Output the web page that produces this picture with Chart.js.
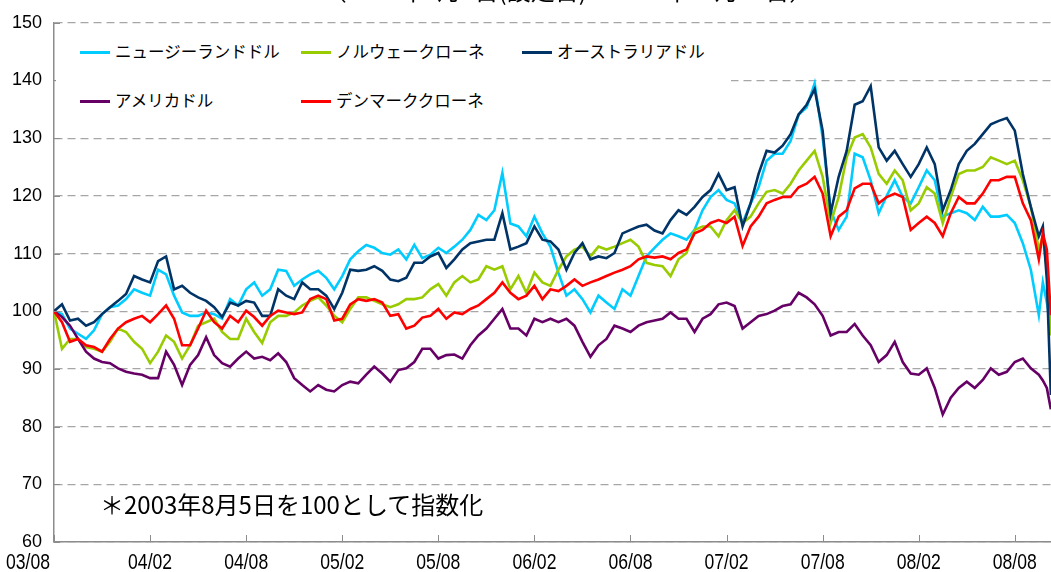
<!DOCTYPE html>
<html>
<head>
<meta charset="utf-8">
<script src="https://cdn.jsdelivr.net/npm/chart.js@4.4.0/dist/chart.umd.min.js"></script>
<style>
body { margin: 0; background: #fff; }
#wrap { position: relative; width: 1051px; height: 572px; overflow: hidden; }
#chart { position: absolute; left: 0; top: 0; }
.jp { position: absolute; white-space: nowrap; color: #000; font-family: "Noto Sans CJK JP", sans-serif; }
#title { left: 0; width: 1136px; text-align: center; top: -22px; font-size: 24px; line-height: 24px; }
#legend { left: 56px; top: 24px; width: 675px; height: 98px; background: #fff; }
.item { position: absolute; font-size: 16.5px; line-height: 20px; }
.item i { display: inline-block; width: 30px; height: 3px; vertical-align: middle; margin-right: 5px; position: relative; top: -1px; }
#note { left: 100px; top: 491px; font-size: 24px; line-height: 26px; }
</style>
</head>
<body>
<div id="wrap">
  <canvas id="chart" width="1051" height="572"></canvas>
  <div id="title" class="jp">（2003年8月5日(設定日)～2008年10月28日）</div>
  <div id="legend" class="jp"></div>
  <div id="note" class="jp">＊2003年8月5日を100として指数化</div>
</div>
<script>
// months after 2003/08/05 (half-month steps, plus a few points at the end)
var months = [];
for (var m = 0; m <= 61; m += 0.5) months.push(m);
months.push(61.5, 61.75, 62, 62.25);

var tickLabels = ['03/08', '04/02', '04/08', '05/02', '05/08', '06/02', '06/08', '07/02', '07/08', '08/02', '08/08'];

var nzd = [100, 99.5, 97, 96.1, 95.2, 96.7, 99.5, 100.7, 101, 102.1, 103.8, 103.2, 102.7, 107.2, 106.4, 102.7, 99.8, 99.2, 99.2, 99.8, 99.5, 98.7, 102.1, 101, 103.8,
  105,
  102.7, 103.8, 107.2, 107, 104.4, 105.5, 106.4, 107, 105.8, 103.8, 106.1, 109, 110.4, 111.5, 111, 110.1, 109.8, 110.7, 109, 111.5, 109.2, 109.8, 111, 110.1,
  111.2,
  112.4, 114.1, 116.7, 115.8, 117.5, 124, 115.2, 114.7, 113, 116.4, 113.5, 111.2, 106.7, 102.7, 103.8, 102.1, 99.8, 102.7, 101.5, 100.4, 103.8, 102.7, 106.1, 109.5,
  111,
  112.4, 113.5, 113, 112.4, 114.1, 117.5, 119.8, 121, 119.3, 118.7, 115.3, 118.7, 121.5, 126.1, 127.3, 127.3, 129.5, 134.1, 135.3, 139.5, 130.1, 117.5, 114.1, 116.4,
  127.3,
  126.7, 122.7, 117, 120, 122.7, 119.8, 118.7, 121.5, 124.4, 122.7, 116.4, 117, 117.5, 117, 115.8, 118.1, 116.4, 116.4, 116.7, 115.3, 111.8, 107.2,
  99.3, 105, 101.5, 97];

var nok = [100, 93.5, 95.2, 95.2, 93.8, 93.5, 93, 94.7, 97, 96.4, 94.7, 93.5, 91, 93, 95.8, 94.7, 91.8, 94.1, 97.5, 98.1, 98.7, 96.4, 95.2, 95.2, 98.7,
  96.4,
  94.5, 98.1, 99.2, 99.2, 99.8, 101, 101.8, 102.4, 101, 99.2, 98.1, 100.4, 102.4, 102.4, 101.8, 101.2, 100.7, 101.2, 102.1, 102.1, 102.4, 103.8, 104.7, 102.7,
  105,
  106.1, 105, 105.5, 107.8, 107.2, 107.8, 103.8, 106.1, 103.2, 106.7, 105, 104.4, 107.2, 109.5, 110.7, 111.2, 109.5, 111.2, 110.7, 111.2, 111.8, 112.4, 111.2, 108.4,
  108,
  107.8, 106.1, 109, 110.1, 114.1, 114.7, 114.7, 113, 115.8, 117.5, 115.3, 116.4, 118.7, 120.7, 121, 120.4, 122.1, 124.4, 126.1, 127.8, 123.3, 115.3, 119.8, 126.7,
  130.1,
  130.7, 128.4, 123.8, 122.1, 124.4, 122.7, 117.5, 118.7, 121.5, 120.4, 115.3, 119.8, 123.8, 124.4, 124.4, 125, 126.7, 126.1, 125.5, 126.1, 122.7, 118.1,
  110.7, 113, 107.2, 95.8];

var aud = [100, 101.2, 98.4, 98.7, 97.5, 98.1, 99.5, 100.7, 101.8, 103, 106.1, 105.5, 105, 108.7, 109.5, 103.8, 104.4, 103.2, 102.4, 101.8, 100.7, 99, 101.5, 101, 101.8,
  101.5,
  99.2, 99.2, 103.8, 102.7, 102.1, 105, 103.8, 103.8, 102.7, 100.4, 103.2, 107.2, 107, 107.2, 107.8, 107, 105.5, 105.2, 105.8, 108.4, 108.4, 109.5, 110.1, 107.5,
  109,
  110.7, 111.8, 112.1, 112.4, 112.4, 117, 110.7, 111.2, 111.8, 114.7, 112.4, 112.1, 110.7, 107.2, 110.1, 111.8, 109, 109.5, 109.2, 110.1, 113.5, 114.1, 114.7, 115,
  114,
  113.5, 115.8, 117.5, 116.7, 118.1, 119.8, 121, 123.8, 121, 121.5, 114.7, 118.7, 123.8, 127.8, 127.5, 128.7, 130.7, 134.1, 135.8, 138.5, 131.3, 117, 123.3, 127.8,
  135.8,
  136.4, 139, 128.4, 126.1, 127.8, 125.5, 123.3, 125.5, 128.4, 125.5, 117.5, 121, 125.5, 127.8, 129, 130.7, 132.4, 133, 133.5, 131.3, 123.8, 118.1,
  113, 114.7, 105.5, 85.5];

var usd = [100, 99, 97.5, 95.2, 93, 91.8, 91.2, 91, 90.1, 89.5, 89.2, 89, 88.4, 88.4, 93, 90.7, 87.2, 90.7, 92.4, 95.5, 92.4, 91, 90.4, 91.8, 93,
  91.8,
  92.1, 91.5, 92.7, 91.2, 88.4, 87.2, 86.1, 87.2, 86.4, 86.1, 87.2, 87.8, 87.5, 89, 90.4, 89.2, 87.8, 89.8, 90.1, 91.2, 93.5, 93.5, 91.8, 92.4,
  92.5,
  91.8, 94.1, 95.8, 97, 98.7, 100.4, 97, 97, 95.8, 98.7, 98.1, 98.7, 98.1, 98.7, 97.5, 94.7, 92.1, 94.1, 95.2, 97.5, 97, 96.4, 97.5, 98.1,
  98.4,
  98.7, 99.8, 98.7, 98.7, 96.4, 98.7, 99.5, 101.2, 101.5, 100.9, 97, 98.1, 99.2, 99.5, 100.1, 100.9, 101.2, 103.2, 102.4, 101.2, 99.2, 95.8, 96.4, 96.4,
  97.8,
  95.8, 94.1, 91.2, 92.4, 94.7, 91.2, 89.2, 89, 90.1, 86.7, 82.1, 85, 86.7, 87.8, 86.7, 88.1, 90.1, 89, 89.5, 91.2, 91.8, 90.1,
  89, 88, 86.7, 83];

var dkk = [100, 98.1, 94.7, 95.2, 94.1, 93.8, 93, 95.2, 97, 98.1, 98.7, 99.2, 98.1, 99.5, 101, 98.7, 94.1, 94.1, 97, 100.1, 98.1, 97, 99.2, 98.1, 100.1,
  99,
  97.5, 99.2, 100.1, 99.8, 99.5, 99.8, 102.1, 102.7, 102.1, 98.4, 98.7, 101.2, 102.1, 101.8, 102.1, 101.5, 99.2, 99.5, 97, 97.5, 98.9, 99.2, 100.4, 98.7,
  99.8,
  99.5, 100.4, 101, 102.1, 103.2, 105, 103.2, 102.1, 102.7, 104.4, 102.1, 103.8, 103.5, 104.4, 105.5, 104.4, 105, 105.5, 106.1, 106.7, 107.2, 107.8, 109, 109.5,
  109.3,
  109.5, 109, 110.1, 110.7, 113.5, 114.1, 115.3, 115.8, 115.3, 116.4, 111.3, 114.7, 116.4, 118.7, 119.3, 119.8, 119.8, 121.5, 122.1, 123.3, 120.4, 113, 116.4, 117.5,
  121.3,
  122.1, 122.1, 118.7, 119.8, 120.4, 119.8, 114.1, 115.3, 116.4, 115.3, 113, 117, 119.8, 118.7, 118.7, 120.4, 122.7, 122.7, 123.3, 123.3, 118.7, 115.8,
  109, 113.5, 110.7, 99.3];

var seriesList = [
  { label: 'ニュージーランドドル', values: nzd, color: '#00CCFF', order: 5 },
  { label: 'ノルウェークローネ', values: nok, color: '#99CC00', order: 4 },
  { label: 'オーストラリアドル', values: aud, color: '#003366', order: 3 },
  { label: 'アメリカドル', values: usd, color: '#660066', order: 2 },
  { label: 'デンマーククローネ', values: dkk, color: '#FF0000', order: 1 }
];

function toPoints(values) {
  return values.map(function (v, i) { return { x: months[i], y: v }; });
}

// legend (html, fixed grid like the original)
var legendPos = [[24, 17], [245, 17], [466, 17], [24, 66], [245, 66]];
var legendBox = document.getElementById('legend');
seriesList.forEach(function (s, i) {
  var d = document.createElement('div');
  d.className = 'item';
  d.style.left = legendPos[i][0] + 'px';
  d.style.top = legendPos[i][1] + 'px';
  d.innerHTML = '<i style="background:' + s.color + '"></i>' + s.label;
  legendBox.appendChild(d);
});

var axisGray = '#8c8c8c';

var axisDeco = {
  id: 'axisDeco',
  afterDraw: function (chart) {
    var ctx = chart.ctx;
    var xs = chart.scales.x, ys = chart.scales.y;
    var area = chart.chartArea;
    ctx.save();
    ctx.strokeStyle = axisGray;
    ctx.lineWidth = 1;
    // inner tick marks
    tickLabels.forEach(function (t, i) {
      var px = Math.round(xs.getPixelForValue(i * 6)) + 0.5;
      ctx.beginPath();
      ctx.moveTo(px, area.bottom);
      ctx.lineTo(px, area.bottom - 7);
      ctx.stroke();
    });
    for (var v = 60; v <= 150; v += 10) {
      var py = Math.round(ys.getPixelForValue(v)) + 0.5;
      ctx.beginPath();
      ctx.moveTo(area.left, py);
      ctx.lineTo(area.left + 6, py);
      ctx.stroke();
    }
    // x labels, condensed like the original
    ctx.fillStyle = '#000';
    ctx.font = '22px "Liberation Sans", Arial, sans-serif';
    ctx.textBaseline = 'alphabetic';
    tickLabels.forEach(function (t, i) {
      var px = xs.getPixelForValue(i * 6);
      ctx.save();
      ctx.translate(i === 0 ? px - 4 : px, 569);
      ctx.scale(0.8, 1);
      ctx.textAlign = i === 0 ? 'right' : 'center';
      ctx.fillText(t, 0, 0);
      ctx.restore();
    });
    ctx.restore();
  }
};

new Chart(document.getElementById('chart'), {
  type: 'line',
  data: {
    datasets: seriesList.map(function (s) {
      return {
        label: s.label,
        data: toPoints(s.values),
        borderColor: s.color,
        backgroundColor: s.color,
        borderWidth: 2.6,
        pointRadius: 0,
        tension: 0,
        order: s.order
      };
    })
  },
  options: {
    responsive: false,
    animation: false,
    devicePixelRatio: 1,
    layout: { padding: { top: 17, right: 0, left: 0, bottom: 0 } },
    plugins: { legend: { display: false }, tooltip: { enabled: false } },
    scales: {
      x: {
        type: 'linear',
        min: 0,
        max: 62.26,
        afterFit: function (scale) { scale.height = 30; },
        grid: { display: false },
        border: { display: true, color: axisGray, width: 1.5 },
        ticks: { display: false }
      },
      y: {
        min: 60,
        max: 150,
        afterFit: function (scale) { scale.width = 54; },
        ticks: {
          stepSize: 10,
          color: '#000',
          padding: 12,
          font: { family: '"Liberation Sans", Arial, sans-serif', size: 18 }
        },
        grid: { color: '#a6a6a6', lineWidth: 1.3, drawTicks: false },
        border: { display: true, color: axisGray, width: 1.5, dash: [8, 5] }
      }
    }
  },
  plugins: [axisDeco]
});
</script>
</body>
</html>
